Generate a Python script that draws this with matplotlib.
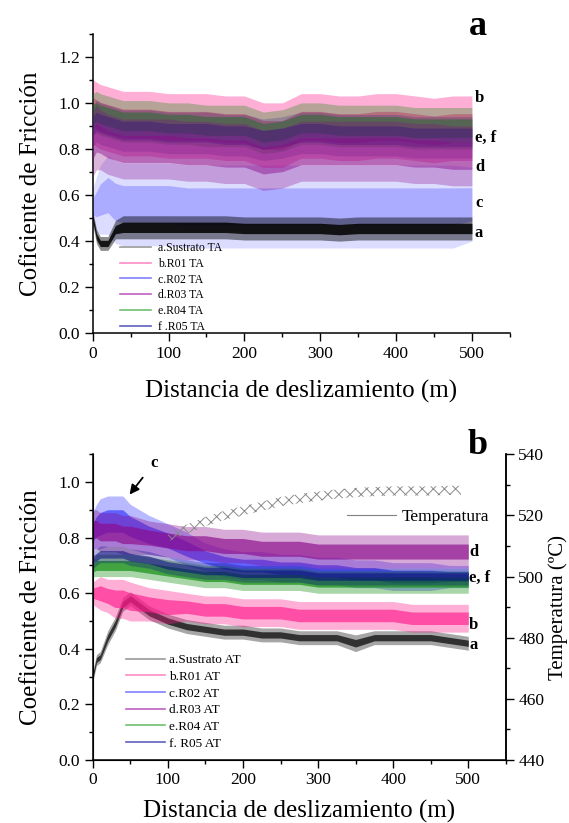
import matplotlib
matplotlib.use("Agg")
import matplotlib.pyplot as plt
from matplotlib.ticker import MultipleLocator, FormatStrFormatter
from matplotlib.lines import Line2D
import numpy as np

plt.rcParams['font.family'] = ['Liberation Serif', 'DejaVu Serif']
plt.rcParams['hatch.linewidth'] = 0.7

# ---------------- data ----------------
X = [0, 5, 10, 20, 30, 40, 50, 75, 100, 125, 150, 175, 200, 225, 250,
     275, 300, 325, 350, 375, 400, 425, 450, 475, 500]

# Panel a (room temperature, TA): mean level and half-width of noisy band
A_SUS_MEAN = [0.50, 0.42, 0.39, 0.39, 0.45, 0.46, 0.46, 0.46, 0.46, 0.46, 0.46, 0.46, 0.455,
              0.455, 0.455, 0.455, 0.455, 0.45, 0.455, 0.455, 0.455, 0.455, 0.455, 0.455, 0.455]
A_SUS_HALF = [0.03, 0.03, 0.03, 0.03, 0.04, 0.05, 0.05, 0.05, 0.05, 0.05, 0.05, 0.05, 0.05,
              0.05, 0.05, 0.05, 0.05, 0.05, 0.05, 0.05, 0.05, 0.05, 0.05, 0.05, 0.05]
A_R01_MEAN = [0.96, 0.95, 0.94, 0.93, 0.92, 0.91, 0.91, 0.91, 0.90, 0.90, 0.90, 0.89, 0.89,
              0.86, 0.86, 0.90, 0.90, 0.89, 0.89, 0.90, 0.90, 0.89, 0.88, 0.89, 0.89]
A_R01_HALF = [0.14, 0.14, 0.14, 0.14, 0.14, 0.14, 0.14, 0.14, 0.14, 0.14, 0.14, 0.14, 0.14,
              0.14, 0.14, 0.14, 0.14, 0.14, 0.14, 0.14, 0.14, 0.14, 0.14, 0.14, 0.14]
A_R02_MEAN = [0.55, 0.56, 0.58, 0.60, 0.57, 0.56, 0.56, 0.56, 0.56, 0.55, 0.55, 0.55, 0.55,
              0.55, 0.55, 0.55, 0.55, 0.55, 0.55, 0.55, 0.55, 0.55, 0.55, 0.55, 0.56]
A_R02_HALF = [0.08, 0.12, 0.15, 0.17, 0.18, 0.18, 0.18, 0.18, 0.18, 0.18, 0.18, 0.18, 0.18,
              0.18, 0.18, 0.18, 0.18, 0.18, 0.18, 0.18, 0.18, 0.18, 0.18, 0.18, 0.16]
A_R03_MEAN = [0.82, 0.85, 0.84, 0.82, 0.81, 0.80, 0.80, 0.80, 0.80, 0.79, 0.79, 0.78, 0.78,
              0.75, 0.76, 0.79, 0.79, 0.79, 0.79, 0.79, 0.79, 0.78, 0.78, 0.77, 0.77]
A_R03_HALF = [0.14, 0.14, 0.13, 0.13, 0.13, 0.13, 0.13, 0.13, 0.13, 0.13, 0.13, 0.13, 0.13,
              0.13, 0.13, 0.13, 0.13, 0.13, 0.13, 0.13, 0.13, 0.13, 0.13, 0.13, 0.13]
A_R04_MEAN = [0.95, 0.96, 0.95, 0.94, 0.93, 0.92, 0.92, 0.92, 0.91, 0.91, 0.90, 0.90, 0.90,
              0.87, 0.88, 0.91, 0.91, 0.90, 0.90, 0.90, 0.90, 0.89, 0.89, 0.89, 0.89]
A_R04_HALF = [0.09, 0.09, 0.09, 0.09, 0.09, 0.09, 0.09, 0.09, 0.09, 0.09, 0.09, 0.09, 0.09,
              0.09, 0.09, 0.09, 0.09, 0.09, 0.09, 0.09, 0.09, 0.09, 0.09, 0.09, 0.09]
A_R05_MEAN = [0.90, 0.92, 0.91, 0.90, 0.89, 0.88, 0.88, 0.88, 0.87, 0.87, 0.87, 0.86, 0.86,
              0.84, 0.85, 0.87, 0.87, 0.86, 0.86, 0.86, 0.86, 0.85, 0.85, 0.85, 0.85]
A_R05_HALF = [0.09, 0.09, 0.09, 0.09, 0.09, 0.09, 0.09, 0.09, 0.09, 0.09, 0.09, 0.09, 0.09,
              0.09, 0.09, 0.09, 0.09, 0.09, 0.09, 0.09, 0.09, 0.09, 0.09, 0.09, 0.09]

# Panel b (high temperature, AT)
B_SUS_MEAN = [0.30, 0.36, 0.37, 0.44, 0.49, 0.56, 0.58, 0.53, 0.50, 0.48, 0.47, 0.46, 0.46,
              0.45, 0.45, 0.44, 0.44, 0.44, 0.42, 0.44, 0.44, 0.44, 0.44, 0.43, 0.42]
B_SUS_HALF = [0.02, 0.02, 0.02, 0.025, 0.025, 0.025, 0.025, 0.025, 0.025, 0.025, 0.025, 0.025,
              0.025, 0.025, 0.025, 0.025, 0.025, 0.025, 0.03, 0.025, 0.025, 0.025, 0.025, 0.025, 0.025]
B_R01_MEAN = [0.60, 0.60, 0.60, 0.59, 0.58, 0.58, 0.57, 0.56, 0.55, 0.55, 0.54, 0.54, 0.53,
              0.53, 0.53, 0.52, 0.52, 0.52, 0.52, 0.52, 0.52, 0.51, 0.51, 0.51, 0.51]
B_R01_HALF = [0.04, 0.05, 0.06, 0.06, 0.07, 0.07, 0.07, 0.06, 0.06, 0.05, 0.05, 0.05, 0.05,
              0.05, 0.05, 0.05, 0.05, 0.05, 0.05, 0.05, 0.05, 0.05, 0.05, 0.05, 0.05]
B_R02_MEAN = [0.82, 0.84, 0.85, 0.86, 0.86, 0.86, 0.84, 0.81, 0.79, 0.76, 0.73, 0.71, 0.70,
              0.70, 0.69, 0.69, 0.68, 0.68, 0.67, 0.67, 0.66, 0.66, 0.66, 0.66, 0.66]
B_R02_HALF = [0.07, 0.08, 0.09, 0.09, 0.09, 0.09, 0.08, 0.07, 0.06, 0.06, 0.05, 0.05, 0.05,
              0.05, 0.05, 0.05, 0.05, 0.05, 0.05, 0.05, 0.05, 0.05, 0.05, 0.04, 0.04]
B_R03_MEAN = [0.83, 0.83, 0.82, 0.82, 0.82, 0.81, 0.81, 0.80, 0.79, 0.78, 0.78, 0.77, 0.77,
              0.76, 0.76, 0.76, 0.75, 0.75, 0.75, 0.75, 0.75, 0.75, 0.75, 0.75, 0.75]
B_R03_HALF = [0.07, 0.07, 0.07, 0.07, 0.07, 0.07, 0.07, 0.06, 0.06, 0.06, 0.06, 0.06, 0.06,
              0.06, 0.06, 0.06, 0.06, 0.06, 0.06, 0.06, 0.06, 0.06, 0.06, 0.06, 0.06]
B_R04_MEAN = [0.69, 0.70, 0.70, 0.70, 0.70, 0.70, 0.70, 0.69, 0.68, 0.67, 0.66, 0.66, 0.65,
              0.65, 0.65, 0.65, 0.64, 0.64, 0.64, 0.64, 0.64, 0.64, 0.64, 0.64, 0.64]
B_R04_HALF = [0.03, 0.04, 0.04, 0.04, 0.04, 0.04, 0.04, 0.04, 0.04, 0.04, 0.04, 0.04, 0.04,
              0.04, 0.04, 0.04, 0.04, 0.04, 0.04, 0.04, 0.04, 0.04, 0.04, 0.04, 0.04]
B_R05_MEAN = [0.72, 0.73, 0.74, 0.74, 0.74, 0.74, 0.73, 0.72, 0.70, 0.69, 0.68, 0.68, 0.67,
              0.67, 0.67, 0.67, 0.66, 0.66, 0.66, 0.66, 0.66, 0.66, 0.66, 0.66, 0.66]
B_R05_HALF = [0.03, 0.03, 0.03, 0.03, 0.03, 0.03, 0.03, 0.03, 0.03, 0.03, 0.03, 0.03, 0.03,
              0.03, 0.03, 0.03, 0.03, 0.03, 0.03, 0.03, 0.03, 0.03, 0.03, 0.03, 0.03]

# Temperature (right axis, panel b)
T_X = [100, 125, 150, 175, 200, 225, 250, 275, 300, 325, 350, 375, 400, 425, 450, 475, 490]
T_MEAN = [513.0, 515.5, 518.0, 520.0, 521.5, 523.0, 524.5, 525.5, 526.3, 527.0, 527.5,
          527.8, 528.0, 528.0, 528.0, 528.2, 528.2]
T_HALF = [1.5, 1.5, 1.5, 1.5, 1.5, 1.5, 1.5, 1.5, 1.5, 1.5, 1.5, 1.5, 1.5, 1.5, 1.5, 1.5, 1.5]

LABELS_A = ["a.Sustrato TA", "b.R01 TA", "c.R02 TA", "d.R03 TA", "e.R04 TA", "f .R05 TA"]
LABELS_B = ["a.Sustrato AT", "b.R01 AT", "c.R02 AT", "d.R03 AT", "e.R04 AT", "f. R05 AT"]
COLORS = ["#000000", "#ff1a8c", "#1a1aff", "#8b0a8b", "#0a8a0a", "#0a0a80"]
LEGEND_COLORS = ["#9a9a9a", "#ff8cc6", "#8080ff", "#c060c0", "#70c070", "#6060c0"]

RIGHT_A = [("b", 1.02), ("e, f", 0.85), ("d", 0.72), ("c", 0.565), ("a", 0.435)]
RIGHT_B = [("d", 0.75), ("e, f", 0.657), ("b", 0.487), ("a", 0.415)]

# ---------------- figure ----------------
fig = plt.figure(figsize=(5.69, 8.23), dpi=100)
axa = fig.add_axes([0.163, 0.595, 0.733, 0.364])
axb = fig.add_axes([0.163, 0.0766, 0.726, 0.3714])
axt = axb.twinx()

x = np.array(X)


def band(ax, mean, half, color, outer_alpha, inner_alpha, z):
    m = np.array(mean)
    h = np.array(half)
    ax.fill_between(x, m - h, m + h, color=color, alpha=outer_alpha, lw=0, zorder=z)
    ax.fill_between(x, m - 0.45 * h, m + 0.45 * h, color=color, alpha=inner_alpha, lw=0,
                    zorder=z + 0.1)


# panel a drawing order
band(axa, A_R02_MEAN, A_R02_HALF, COLORS[2], 0.15, 0.25, 1)
band(axa, A_R01_MEAN, A_R01_HALF, COLORS[1], 0.35, 0.5, 2)
band(axa, A_R04_MEAN, A_R04_HALF, COLORS[4], 0.3, 0.45, 3)
band(axa, A_R05_MEAN, A_R05_HALF, COLORS[5], 0.2, 0.35, 4)
band(axa, A_R03_MEAN, A_R03_HALF, COLORS[3], 0.3, 0.45, 5)
band(axa, A_SUS_MEAN, A_SUS_HALF, COLORS[0], 0.45, 0.85, 6)

# panel b drawing order
band(axb, B_SUS_MEAN, B_SUS_HALF, COLORS[0], 0.35, 0.7, 1)
band(axb, B_R01_MEAN, B_R01_HALF, COLORS[1], 0.35, 0.65, 2)
band(axb, B_R02_MEAN, B_R02_HALF, COLORS[2], 0.3, 0.55, 3)
band(axb, B_R03_MEAN, B_R03_HALF, COLORS[3], 0.35, 0.65, 4)
band(axb, B_R04_MEAN, B_R04_HALF, COLORS[4], 0.35, 0.65, 5)
band(axb, B_R05_MEAN, B_R05_HALF, COLORS[5], 0.3, 0.55, 6)

tm = np.array(T_MEAN)
th = np.array(T_HALF)
axt.fill_between(T_X, tm - th, tm + th, facecolor="none", edgecolor="#8a8a8a",
                 hatch="xxx", lw=0, zorder=2)

# ---------------- axes styling ----------------
TICK_FS = 12.5
LABEL_FS = 18

for ax in (axa, axb):
    ax.set_xlim(0, 550)
    ax.set_xticks([0, 100, 200, 300, 400, 500])
    ax.xaxis.set_minor_locator(MultipleLocator(50))
    ax.yaxis.set_major_locator(MultipleLocator(0.2))
    ax.yaxis.set_minor_locator(MultipleLocator(0.1))
    ax.tick_params(which="major", direction="out", length=6, width=1, labelsize=TICK_FS, pad=3)
    ax.tick_params(which="minor", direction="out", length=3, width=1)
    ax.spines["top"].set_visible(False)
    for s in ax.spines.values():
        s.set_linewidth(1.1)
    ax.yaxis.set_major_formatter(FormatStrFormatter("%.1f"))

axa.spines["right"].set_visible(False)
axa.set_ylim(0, 1.3)
axa.set_ylabel("Coficiente de Fricción", fontsize=LABEL_FS, labelpad=12)
axa.set_xlabel("Distancia de deslizamiento (m)", fontsize=LABEL_FS, labelpad=13)

axb.set_ylim(0, 1.1)
axb.set_ylabel("Coeficiente de Fricción", fontsize=LABEL_FS, labelpad=12)
axb.set_xlabel("Distancia de deslizamiento (m)", fontsize=LABEL_FS, labelpad=8)

axt.set_ylim(440, 540)
axt.yaxis.set_major_locator(MultipleLocator(20))
axt.yaxis.set_minor_locator(MultipleLocator(10))
axt.tick_params(which="major", direction="out", length=6, width=1, labelsize=TICK_FS, pad=3)
axt.tick_params(which="minor", direction="out", length=3, width=1)
axt.spines["top"].set_visible(False)
axt.spines["right"].set_linewidth(1.1)
axt.set_ylabel("Temperatura (ºC)", fontsize=15, labelpad=3)

# legends
ha = [Line2D([], [], color=c, lw=1.2) for c in LEGEND_COLORS]
axa.legend(ha, LABELS_A, loc="upper left", bbox_to_anchor=(0.065, 0.305),
           frameon=False, fontsize=8.5, handlelength=2.6, labelspacing=0.32,
           handletextpad=0.6, borderpad=0, borderaxespad=0)
hb = [Line2D([], [], color=c, lw=1.2) for c in LEGEND_COLORS]
axb.legend(hb, LABELS_B, loc="upper left", bbox_to_anchor=(0.08, 0.347),
           frameon=False, fontsize=9.5, handlelength=3.0, labelspacing=0.34,
           handletextpad=0.3, borderpad=0, borderaxespad=0)
axt.legend([Line2D([], [], color="#808080", lw=0.8)], ["Temperatura"],
           loc="center right", bbox_to_anchor=(0.96, 0.794), frameon=False,
           fontsize=12.5, handlelength=2.8, handletextpad=0.35, borderpad=0,
           borderaxespad=0)

# right side series labels
for txt, yv in RIGHT_A:
    axa.text(504, yv, txt, fontsize=12, fontweight="bold", va="center", ha="left")
for txt, yv in RIGHT_B:
    axb.text(501, yv, txt, fontsize=12, fontweight="bold", va="center", ha="left")

# annotation for c
axb.annotate("c", xy=(49, 0.955), xytext=(82, 1.07), fontsize=12, fontweight="bold",
             ha="center", va="center",
             arrowprops=dict(arrowstyle="-|>", color="black", lw=1.3, shrinkA=6, shrinkB=0,
                             mutation_scale=14))

# panel letters
fig.text(0.84, 0.968, "a", fontsize=26, fontweight="bold", ha="center", va="center")
fig.text(0.84, 0.459, "b", fontsize=26, fontweight="bold", ha="center", va="center")

fig.savefig("out.png", dpi=100)
